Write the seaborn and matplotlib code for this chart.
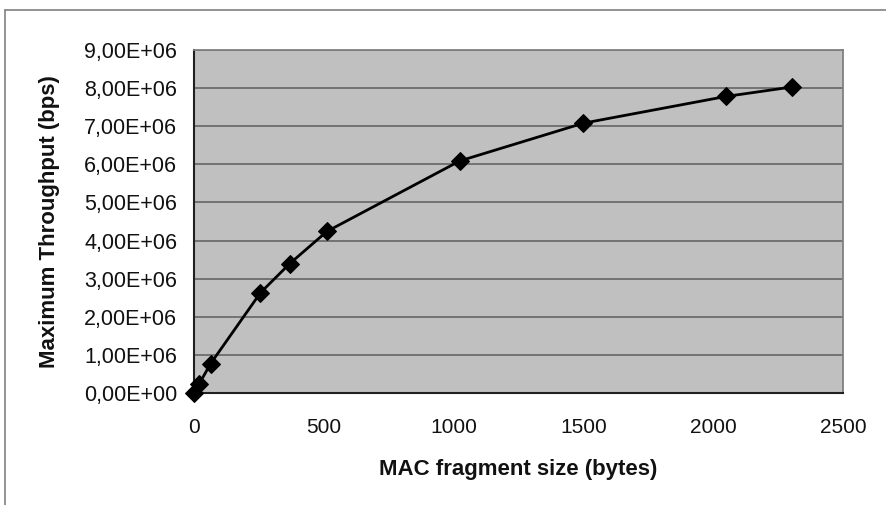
import matplotlib
matplotlib.use("Agg")
import matplotlib.pyplot as plt
from matplotlib.lines import Line2D
from matplotlib.ticker import FuncFormatter, MultipleLocator
import seaborn as sns
import pandas as pd

# data
fragment_size = [0, 20, 64, 256, 368, 512, 1024, 1500, 2048, 2304]
throughput = [0.0, 0.24e6, 0.77e6, 2.63e6, 3.39e6, 4.24e6, 6.09e6, 7.08e6, 7.78e6, 8.03e6]
x_label = "MAC fragment size (bytes)"
y_label = "Maximum Throughput (bps)"

df = pd.DataFrame({"size": fragment_size, "tp": throughput})

sns.set_style("white", {"axes.facecolor": "#c0c0c0"})
plt.rcParams["font.family"] = ["Liberation Sans", "DejaVu Sans"]

fig = plt.figure(figsize=(8.86, 5.05), dpi=100)
ax = fig.add_axes([194 / 886, 1 - 393 / 505, (843 - 194) / 886, (393 - 50) / 505])

sns.lineplot(data=df, x="size", y="tp", ax=ax, color="black", linewidth=2,
             marker="D", markersize=9, markeredgecolor="black", markerfacecolor="black",
             clip_on=False, zorder=5)

ax.set_xlim(0, 2500)
ax.set_ylim(0, 9e6)
ax.xaxis.set_major_locator(MultipleLocator(500))
ax.yaxis.set_major_locator(MultipleLocator(1e6))


def sci_comma(v, pos):
    s = f"{v:.2E}"
    return s.replace(".", ",")


ax.yaxis.set_major_formatter(FuncFormatter(sci_comma))
ax.grid(axis="y", color="#6c6c6c", linewidth=1.3)
ax.set_axisbelow(True)

for side in ["top", "right"]:
    ax.spines[side].set_color("#808080")
    ax.spines[side].set_linewidth(1.3)
for side in ["left", "bottom"]:
    ax.spines[side].set_color("#202020")
    ax.spines[side].set_linewidth(1.5)

ax.tick_params(axis="both", direction="out", length=6, width=1, color="#303030",
               labelcolor="#111111")
ax.tick_params(axis="x", labelsize=15, pad=12)
ax.tick_params(axis="y", labelsize=15.5, pad=6)

ax.set_xlabel(x_label, fontsize=16, fontweight="bold", labelpad=16, color="#111111")
ax.set_ylabel(y_label, fontsize=16, fontweight="bold", labelpad=17, color="#111111")

# outer chart frame (top and left edges visible in the reference)
fig.add_artist(Line2D([5 / 886, 1.0], [1 - 10 / 505, 1 - 10 / 505], color="#808080", linewidth=1.2))
fig.add_artist(Line2D([5 / 886, 5 / 886], [0.0, 1 - 10 / 505], color="#808080", linewidth=1.2))

fig.savefig("out.png", dpi=100, facecolor="white")
